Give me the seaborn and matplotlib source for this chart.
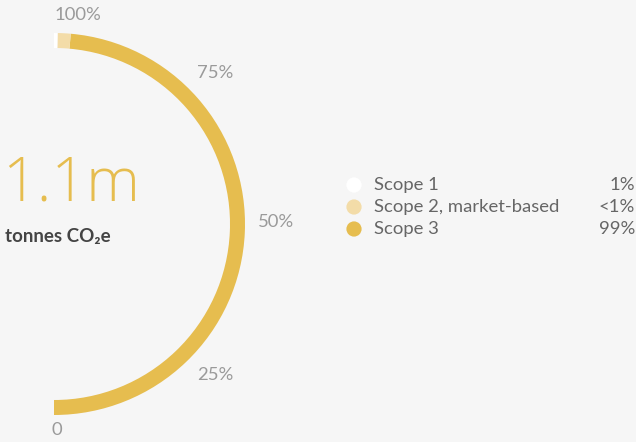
import matplotlib
matplotlib.use("Agg")
import matplotlib.pyplot as plt
import seaborn as sns
import pandas as pd

categories = ["Scope 1", "Scope 2, market-based", "Scope 3"]
share_labels = ["1%", "<1%", "99%"]
arc_values = [0.6, 2.2, 97.2]          # share of the half ring (drawn values)
colors = ["#ffffff", "#f3dca8", "#e6bd4f"]
tick_labels = ["0", "25%", "50%", "75%", "100%"]
total_label = "1.1m"
unit_label = "tonnes CO₂e"

sns.set_theme(style="white")
plt.rcParams["font.family"] = ["Lato", "DejaVu Sans"]

W, H = 636, 442
fig = plt.figure(figsize=(W / 100, H / 100), dpi=100, facecolor="#f6f6f6")
ax = fig.add_axes([0, 0, 1, 1])
ax.set_facecolor("#f6f6f6")

cx, cy = 54, H - 224
R, ring = 191, 15

# half donut: scope 3 from bottom, up through right, scope 2 & 1 at top
vals = [arc_values[2], arc_values[1], arc_values[0], sum(arc_values)]
cols = [colors[2], colors[1], colors[0], (0, 0, 0, 0)]
ax.pie(vals, colors=cols, startangle=-90, counterclock=True, center=(cx, cy),
       radius=R, wedgeprops=dict(width=ring, linewidth=0), frame=True)

ax.set_xlim(0, W)
ax.set_ylim(0, H)
ax.set_aspect("equal")
ax.axis("off")

# scale labels
tick_pos = [(57, 430), (215, 375), (276, 222), (215, 73), (78, 15)]
for lab, (px, py) in zip(tick_labels, tick_pos):
    ax.text(px, H - py, lab, ha="center", va="center", fontsize=13.3, color="#9a9a9a")

# centre figure
ax.text(2, H - 185, total_label, ha="left", va="center", fontsize=44,
        fontweight=300, family=["Open Sans", "DejaVu Sans"], color="#e6bd4f")
ax.text(5, H - 237, unit_label, ha="left", va="center", fontsize=13.5,
        fontweight="bold", color="#444444")

# legend
leg = pd.DataFrame({"x": [354] * 3, "y": [H - 185, H - 207, H - 229], "cat": categories})
sns.scatterplot(data=leg, x="x", y="y", hue="cat", palette=colors, s=120,
                linewidth=0, legend=False, ax=ax)
for i, (cat, sh) in enumerate(zip(categories, share_labels)):
    y = H - (185 + 22 * i)
    ax.text(374, y, cat, ha="left", va="center", fontsize=13.3, color="#666666")
    ax.text(635, y, sh, ha="right", va="center", fontsize=13.3, color="#666666")

ax.set_xlim(0, W)
ax.set_ylim(0, H)
fig.savefig("out.png", dpi=100, facecolor=fig.get_facecolor())
